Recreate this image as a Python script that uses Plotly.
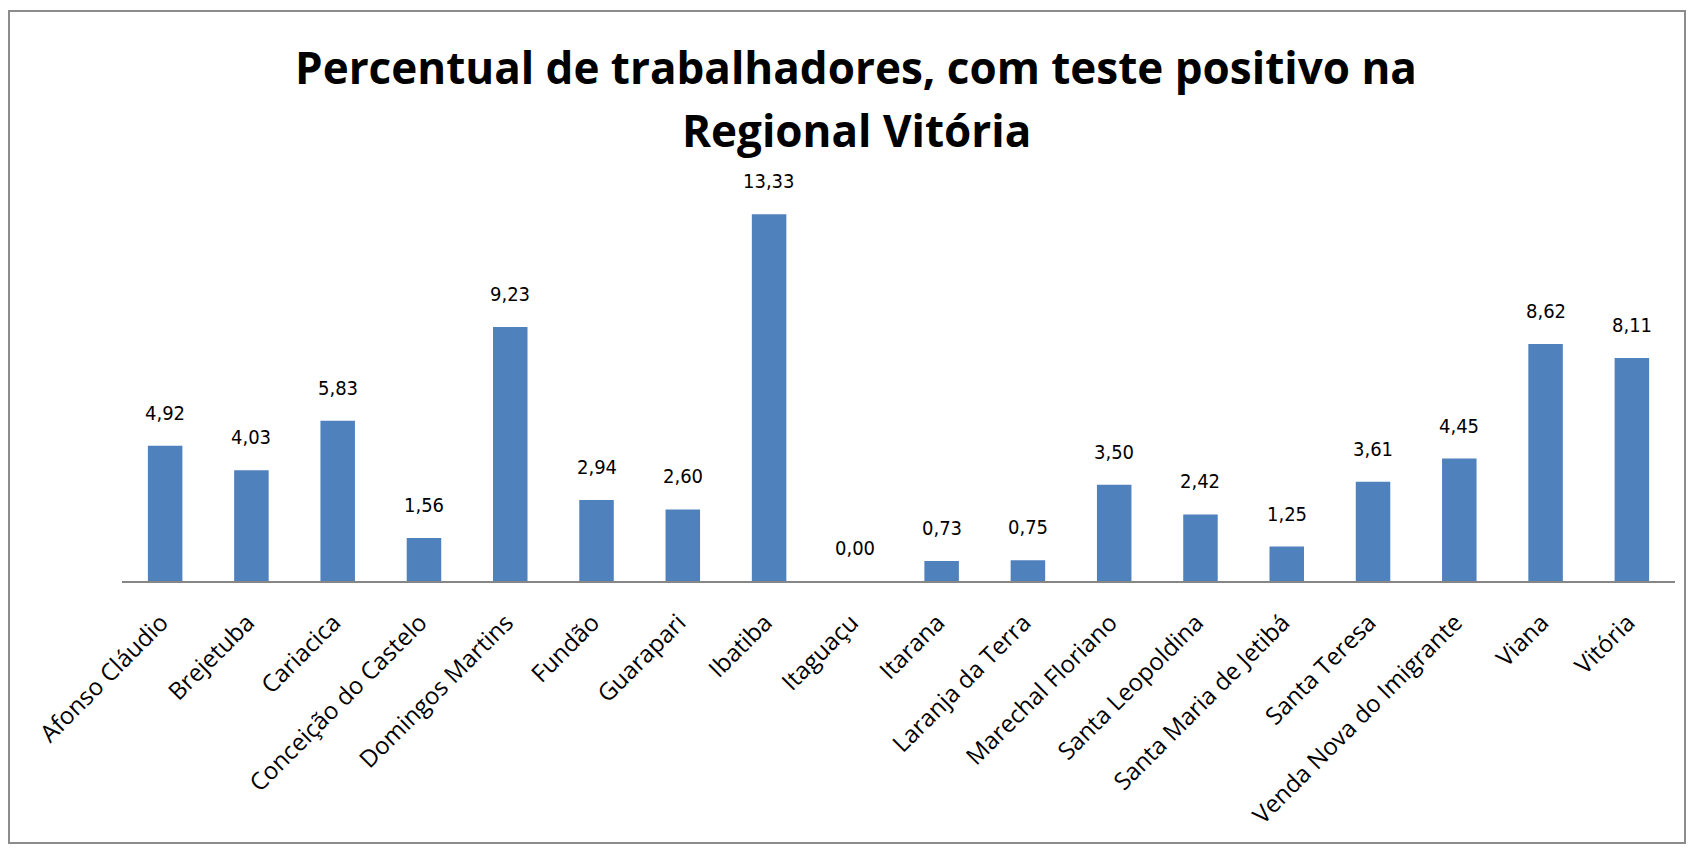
import plotly.graph_objects as go

municipios = ["Afonso Cláudio", "Brejetuba", "Cariacica", "Conceição do Castelo",
              "Domingos Martins", "Fundão", "Guarapari", "Ibatiba", "Itaguaçu",
              "Itarana", "Laranja da Terra", "Marechal Floriano", "Santa Leopoldina",
              "Santa Maria de Jetibá", "Santa Teresa", "Venda Nova do Imigrante",
              "Viana", "Vitória"]
percentual = [4.92, 4.03, 5.83, 1.56, 9.23, 2.94, 2.60, 13.33, 0.00,
              0.73, 0.75, 3.50, 2.42, 1.25, 3.61, 4.45, 8.62, 8.11]

titulo_linhas = ["Percentual de trabalhadores, com teste positivo na", "Regional Vitória"]

# page body has an 8 px margin; figure coordinates = reference pixels - 8
W, H = 1678, 836
L, R, T, B = 114, 11, 170, 263
pw, ph = W - L - R, H - T - B

def px_x(p):
    return (p - L) / pw

def px_y(p):
    return (H - B - p) / ph

fig = go.Figure(go.Bar(
    x=municipios, y=percentual,
    marker=dict(color="#4F81BD", line=dict(width=0)),
    hoverinfo="x+y",
))

annotations = []
for m, v in zip(municipios, percentual):
    annotations.append(dict(
        x=m, y=v, xref="x", yref="y", text=f"{v:.2f}".replace(".", ","),
        showarrow=False, yanchor="bottom", yshift=19,
        font=dict(family="DejaVu Sans Condensed, DejaVu Sans", size=20, color="#000000"),
    ))
for i, (linha, cy) in enumerate(zip(titulo_linhas, [59, 122])):
    annotations.append(dict(
        x=px_x(848), y=px_y(cy), xref="paper", yref="paper", text=linha,
        showarrow=False, xanchor="center", yanchor="middle",
        font=dict(family="Open Sans", size=44, color="#000000", weight="bold"),
    ))

fig.update_layout(
    width=W, height=H,
    separators=",.",
    margin=dict(l=L, r=R, t=T, b=B),
    paper_bgcolor="white", plot_bgcolor="white",
    bargap=0.6,
    showlegend=False,
    annotations=annotations,
    xaxis=dict(showgrid=False, showline=True, linecolor="#868686", linewidth=2,
               ticks="outside", ticklen=16, tickcolor="rgba(255,255,255,0)",
               tickangle=-45, ticklabelshift=-4, automargin=False,
               tickfont=dict(family="Open Sans", size=24, color="#000000")),
    yaxis=dict(visible=False, range=[0, 14.65], showgrid=False),
    shapes=[dict(type="rect", xref="paper", yref="paper",
                 x0=px_x(1), x1=px_x(1677), y0=px_y(835), y1=px_y(3),
                 line=dict(color="#8c8c8c", width=2), layer="below")],
)

fig.write_html("out.html")
